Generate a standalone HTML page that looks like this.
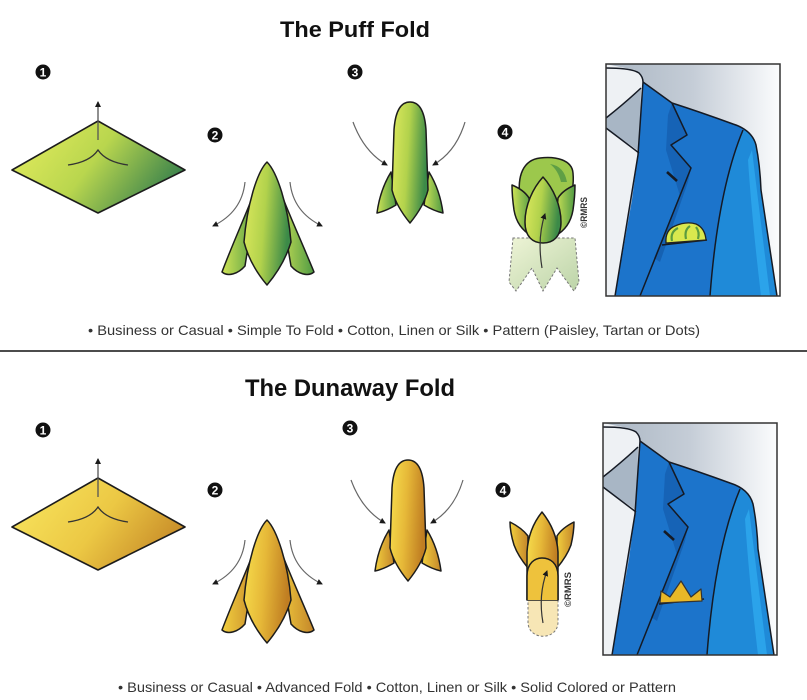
<!DOCTYPE html>
<html><head><meta charset="utf-8"><style>
html,body{margin:0;padding:0;background:#fff;}
svg{display:block;}
text{font-family:"Liberation Sans",sans-serif;}
</style></head><body>
<svg width="807" height="700" viewBox="0 0 807 700" xmlns="http://www.w3.org/2000/svg">
<defs>
<marker id="ah" markerWidth="7" markerHeight="7" refX="5" refY="3" orient="auto" markerUnits="userSpaceOnUse"><path d="M0,0 L6,3 L0,6 Z" fill="#1a1a1a"/></marker>
<linearGradient id="gD" x1="0" y1="0.3" x2="1" y2="0.7"><stop offset="0" stop-color="#e0ea5c"/><stop offset="0.45" stop-color="#b9d64e"/><stop offset="1" stop-color="#2b784c"/></linearGradient>
<linearGradient id="gP" x1="0" y1="0" x2="1" y2="0.2"><stop offset="0" stop-color="#dfea5e"/><stop offset="0.5" stop-color="#b2d24c"/><stop offset="1" stop-color="#3c8a48"/></linearGradient>
<linearGradient id="gS" x1="0" y1="0" x2="1" y2="0"><stop offset="0" stop-color="#cfe356"/><stop offset="1" stop-color="#4f9a44"/></linearGradient>
<linearGradient id="gF" x1="0" y1="0" x2="1" y2="1"><stop offset="0" stop-color="#eef4d6"/><stop offset="1" stop-color="#bcd4a8"/></linearGradient>
<linearGradient id="yD" x1="0" y1="0.3" x2="1" y2="0.7"><stop offset="0" stop-color="#f7e35c"/><stop offset="0.5" stop-color="#ecc844"/><stop offset="1" stop-color="#c48626"/></linearGradient>
<linearGradient id="yP" x1="0" y1="0" x2="1" y2="0.2"><stop offset="0" stop-color="#f8e04e"/><stop offset="0.5" stop-color="#e6b838"/><stop offset="1" stop-color="#c07e22"/></linearGradient>
<linearGradient id="yS" x1="0" y1="0" x2="1" y2="0"><stop offset="0" stop-color="#f2cf3e"/><stop offset="1" stop-color="#c4862a"/></linearGradient>
<linearGradient id="bg" x1="0" y1="0" x2="1" y2="0"><stop offset="0" stop-color="#aab6c3"/><stop offset="0.5" stop-color="#c5cdd7"/><stop offset="1" stop-color="#fbfcfd"/></linearGradient>
<g id="jk">
<rect x="606" y="64" width="174" height="232" fill="url(#bg)"/>
<path d="M606,64 L635,70 Q643,74 643,82 L638,155 L615,296 L606,296 Z" fill="#eef1f4"/>
<path d="M606,118 Q625,103 641,88 L640,152 L606,128 Z" fill="#a8b6c5"/>
<path d="M643,82 L672,103 Q700,112 733,124 Q752,130 756,145 Q760,165 761,190 L777,296 L615,296 L632,200 L638,155 Z" fill="#1c74cb"/>
<path d="M672,103 L687,135 L671,145 L691,168 L680,196 L666,150 L668,115 Z" fill="#1663b6"/>
<path d="M691,168 L688,182 L660,262 L654,258 Z" fill="#1561b2"/>
<path d="M743,130 Q752,133 756,145 Q760,165 761,190 L777,296 L710,296 Q715,200 743,130 Z" fill="#1f8ad8"/>
<path d="M752,150 Q758,200 770,296 L761,296 Q752,220 748,160 Z" fill="#2ba3ea"/>
<g fill="none" stroke="#151a24" stroke-width="1.5" stroke-linejoin="round">
<path d="M606,68 Q632,68 639,73 Q643,77 643,82"/>
<path d="M606,118 Q625,103 641,88"/>
<path d="M606,128 L639,153"/>
<path d="M643,82 L638,155 L615,296"/>
<path d="M643,82 L672,103 L687,135 L671,145 L691,168 L640,296"/>
<path d="M672,103 Q700,112 733,124 Q752,130 756,145 Q760,165 761,190 L777,296"/>
<path d="M743,130 Q718,190 710,296"/>
<path d="M662,245 L707,240"/>
<path d="M667,172 L677,181" stroke-width="2.6"/>
</g>
<rect x="606" y="64" width="174" height="232" fill="none" stroke="#333" stroke-width="1.5"/>
</g>
</defs>
<rect width="807" height="700" fill="#fff"/>

<!-- TOP SECTION -->
<text x="280" y="37" font-size="22" font-weight="bold" fill="#111" textLength="150" lengthAdjust="spacingAndGlyphs">The Puff Fold</text>

<g font-size="12" font-weight="bold" fill="#fff" text-anchor="middle">
<circle cx="43" cy="72" r="7.5" fill="#111"/><text x="43" y="76.3">1</text>
<circle cx="215" cy="135" r="7.5" fill="#111"/><text x="215" y="139.3">2</text>
<circle cx="355" cy="72" r="7.5" fill="#111"/><text x="355" y="76.3">3</text>
<circle cx="505" cy="132" r="7.5" fill="#111"/><text x="505" y="136.3">4</text>
</g>

<!-- step1 -->
<path d="M12,170 L98,121 L185,170 L98,213 Z" fill="url(#gD)" stroke="#1c1c1c" stroke-width="1.6" stroke-linejoin="round"/>
<path d="M68,165 Q90,162 98,150 Q106,162 128,165" fill="none" stroke="#333" stroke-width="1.3"/>
<line x1="98" y1="140" x2="98" y2="102" stroke="#555" stroke-width="1.3" marker-end="url(#ah)"/>

<!-- step2 -->
<g stroke="#1c1c1c" stroke-width="1.5" stroke-linejoin="round">
<path d="M258,183 C248,210 232,245 222,272 C228,277 238,274 245,266 Z" fill="url(#gS)"/>
<path d="M277,183 C287,210 303,245 314,272 C308,277 298,274 291,266 Z" fill="url(#gS)"/>
<path d="M267,162 C257,172 247,205 244,242 Q250,265 267,285 Q284,265 291,242 C288,205 277,172 267,162 Z" fill="url(#gP)"/>
</g>
<path d="M245,182 Q242,212 213,226" fill="none" stroke="#666" stroke-width="1.2" marker-end="url(#ah)"/>
<path d="M290,182 Q293,212 322,226" fill="none" stroke="#666" stroke-width="1.2" marker-end="url(#ah)"/>

<!-- step3 -->
<g stroke="#1c1c1c" stroke-width="1.5" stroke-linejoin="round">
<path d="M391,172 Q380,190 377,213 Q386,211 396,205 Z" fill="url(#gS)"/>
<path d="M429,172 Q440,190 443,213 Q434,211 424,205 Z" fill="url(#gS)"/>
<path d="M410,102 C399,102 395,115 394,130 L392,190 Q396,206 410,223 Q424,206 428,190 L426,130 C425,115 421,102 410,102 Z" fill="url(#gP)"/>
</g>
<path d="M353,122 Q364,152 387,165" fill="none" stroke="#666" stroke-width="1.2" marker-end="url(#ah)"/>
<path d="M465,122 Q456,152 433,165" fill="none" stroke="#666" stroke-width="1.2" marker-end="url(#ah)"/>

<!-- step4 puff -->
<path d="M513,238 L509,282 L516,291 L532,268 L543,291 L557,268 L574,291 L579,282 L575,238 Z" fill="url(#gF)" stroke="#777" stroke-width="1" stroke-dasharray="2.5,2"/>
<g stroke="#1c1c1c" stroke-width="1.5" stroke-linejoin="round">
<path d="M520,198 C517,176 523,160 540,158 C556,156 572,160 573,173 C574,184 572,195 569,200 Z" fill="#9cc84c"/>
<path d="M512,185 Q524,190 529,198 L532,236 Q517,228 514,210 Q512,196 512,185 Z" fill="url(#gS)"/>
<path d="M575,185 Q563,190 558,198 L555,236 Q570,228 573,210 Q575,196 575,185 Z" fill="url(#gS)"/>
<path d="M543,177 C533,188 525,205 525,222 C525,237 533,243 543,243 C553,243 561,237 561,222 C561,205 553,188 543,177 Z" fill="url(#gP)"/>
</g>
<path d="M550,164 Q564,166 567,182 L561,182 Q558,170 550,164 Z" fill="#5f9f45"/>
<path d="M542,268 Q537,238 545,214" fill="none" stroke="#333" stroke-width="1.2" marker-end="url(#ah)"/>
<text transform="translate(587,228) rotate(-90)" font-size="9" font-weight="bold" fill="#333" textLength="31" lengthAdjust="spacingAndGlyphs">©RMRS</text>

<!-- jacket top -->
<use href="#jk"/>
<path d="M666,243 Q665,230 675,226 Q686,221 696,224 Q705,228 706,240 Z" fill="#d9e84e" stroke="#222" stroke-width="1.3"/>
<path d="M672,241 Q670,232 678,228 M686,239 Q684,230 690,226 M698,239 Q700,232 696,227" fill="none" stroke="#5b9c3e" stroke-width="2.2"/>

<text x="88" y="335" font-size="14" fill="#333" textLength="612" lengthAdjust="spacingAndGlyphs">• Business or Casual  • Simple To Fold • Cotton, Linen or Silk • Pattern (Paisley, Tartan or Dots)</text>

<line x1="0" y1="351" x2="807" y2="351" stroke="#111" stroke-width="1.5"/>

<!-- BOTTOM SECTION -->
<text x="245" y="396" font-size="24" font-weight="bold" fill="#111" textLength="210" lengthAdjust="spacingAndGlyphs">The Dunaway Fold</text>

<g font-size="12" font-weight="bold" fill="#fff" text-anchor="middle">
<circle cx="43" cy="430" r="7.5" fill="#111"/><text x="43" y="434.3">1</text>
<circle cx="215" cy="490" r="7.5" fill="#111"/><text x="215" y="494.3">2</text>
<circle cx="350" cy="428" r="7.5" fill="#111"/><text x="350" y="432.3">3</text>
<circle cx="503" cy="490" r="7.5" fill="#111"/><text x="503" y="494.3">4</text>
</g>

<g transform="translate(0,357)">
<path d="M12,170 L98,121 L185,170 L98,213 Z" fill="url(#yD)" stroke="#1c1c1c" stroke-width="1.6" stroke-linejoin="round"/>
<path d="M68,165 Q90,162 98,150 Q106,162 128,165" fill="none" stroke="#333" stroke-width="1.3"/>
<line x1="98" y1="140" x2="98" y2="102" stroke="#555" stroke-width="1.3" marker-end="url(#ah)"/>
</g>

<g transform="translate(0,358)">
<g stroke="#1c1c1c" stroke-width="1.5" stroke-linejoin="round">
<path d="M258,183 C248,210 232,245 222,272 C228,277 238,274 245,266 Z" fill="url(#yS)"/>
<path d="M277,183 C287,210 303,245 314,272 C308,277 298,274 291,266 Z" fill="url(#yS)"/>
<path d="M267,162 C257,172 247,205 244,242 Q250,265 267,285 Q284,265 291,242 C288,205 277,172 267,162 Z" fill="url(#yP)"/>
</g>
<path d="M245,182 Q242,212 213,226" fill="none" stroke="#666" stroke-width="1.2" marker-end="url(#ah)"/>
<path d="M290,182 Q293,212 322,226" fill="none" stroke="#666" stroke-width="1.2" marker-end="url(#ah)"/>
</g>

<g transform="translate(-2,358)">
<g stroke="#1c1c1c" stroke-width="1.5" stroke-linejoin="round">
<path d="M391,172 Q380,190 377,213 Q386,211 396,205 Z" fill="url(#yS)"/>
<path d="M429,172 Q440,190 443,213 Q434,211 424,205 Z" fill="url(#yS)"/>
<path d="M410,102 C399,102 395,115 394,130 L392,190 Q396,206 410,223 Q424,206 428,190 L426,130 C425,115 421,102 410,102 Z" fill="url(#yP)"/>
</g>
<path d="M353,122 Q364,152 387,165" fill="none" stroke="#666" stroke-width="1.2" marker-end="url(#ah)"/>
<path d="M465,122 Q456,152 433,165" fill="none" stroke="#666" stroke-width="1.2" marker-end="url(#ah)"/>
</g>

<!-- step4 dunaway -->
<path d="M528,598 L528,622 C528,641 558,641 558,622 L558,598 Z" fill="#f7e6b5" stroke="#777" stroke-width="1" stroke-dasharray="2.5,2"/>
<g stroke="#1c1c1c" stroke-width="1.5" stroke-linejoin="round">
<path d="M510,522 Q522,528 528,536 L528,568 Q518,556 514,545 Q510,532 510,522 Z" fill="url(#yS)"/>
<path d="M574,522 Q562,528 557,536 L557,568 Q567,556 571,545 Q574,532 574,522 Z" fill="url(#yS)"/>
<path d="M542,512 C534,522 528,535 527,552 L527,600 L558,600 L558,552 C557,535 550,522 542,512 Z" fill="url(#yP)"/>
<path d="M527,600 L527,576 C527,563 535,558 542,558 C550,558 558,563 558,576 L558,600" fill="#eec23c"/>
</g>
<path d="M543,623 Q538,595 547,571" fill="none" stroke="#333" stroke-width="1.2" marker-end="url(#ah)"/>
<text transform="translate(571,607) rotate(-90)" font-size="9" font-weight="bold" fill="#333" textLength="35" lengthAdjust="spacingAndGlyphs">©RMRS</text>

<!-- jacket bottom -->
<use href="#jk" transform="translate(-3,359)"/>
<path d="M660,603 L661,591 L670,597 L681,581 L691,597 L701,589 L702,601 Z" fill="#e8b828" stroke="#333" stroke-width="1.2" stroke-linejoin="round"/>

<text x="118" y="692" font-size="14" fill="#333" textLength="558" lengthAdjust="spacingAndGlyphs">• Business or Casual • Advanced Fold • Cotton, Linen or Silk • Solid Colored or Pattern</text>
</svg>
</body></html>
